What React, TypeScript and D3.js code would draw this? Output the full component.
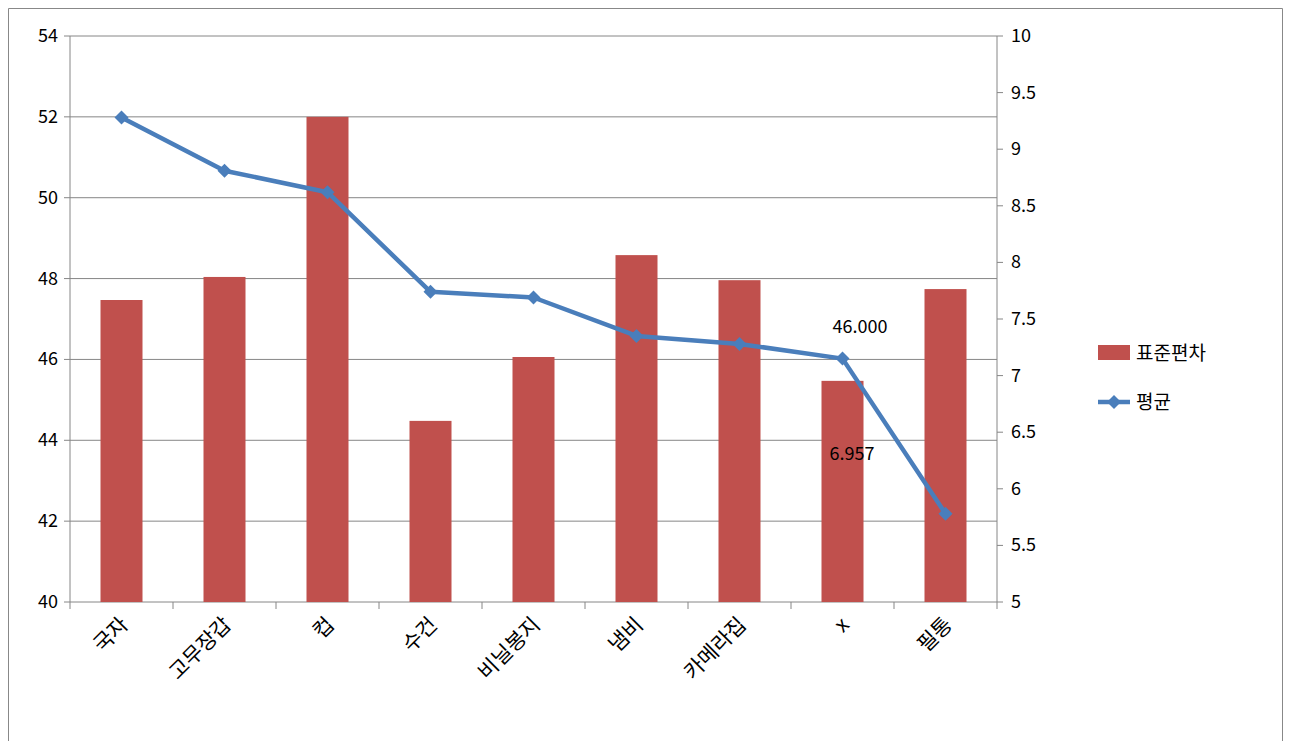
import * as d3 from "d3";

const categories = ["국자", "고무장갑", "컵", "수건", "비닐봉지", "냄비", "카메라집", "x", "필통"];
const stdDev = [47.47, 48.04, 52.0, 44.48, 46.06, 48.58, 47.96, 45.47, 47.74];
const mean = [9.28, 8.81, 8.62, 7.74, 7.69, 7.35, 7.28, 7.15, 5.78];
const leftTicks = [40, 42, 44, 46, 48, 50, 52, 54];
const rightTicks = [5, 5.5, 6, 6.5, 7, 7.5, 8, 8.5, 9, 9.5, 10];

export default function App() {
  const W = 1289, H = 741;
  const m = { left: 70, right: 997, top: 36, bottom: 602 };
  const x = d3.scaleBand<string>().domain(categories).range([m.left, m.right]);
  const yL = d3.scaleLinear().domain([40, 54]).range([m.bottom, m.top]);
  const yR = d3.scaleLinear().domain([5, 10]).range([m.bottom, m.top]);
  const cx = (c: string) => x(c)! + x.bandwidth() / 2;
  const line = d3.line<number>().x((_, i) => cx(categories[i])).y(d => yR(d));
  const font = "Malgun Gothic, 'Noto Sans CJK KR', sans-serif";
  const diamond = (px: number, py: number, s = 7) =>
    `M${px},${py - s}L${px + s},${py}L${px},${py + s}L${px - s},${py}Z`;
  return (
    <svg width={W} height={H} style={{ position: "absolute", left: 0, top: 0, fontFamily: font }}>
      <rect x={0} y={0} width={W} height={H} fill="#fff" />
      <path d={`M8.5,${H}V8.5H1282.5V${H}`} fill="none" stroke="#888" />
      {leftTicks.map(t => (
        <g key={t}>
          <line x1={m.left} x2={m.right} y1={yL(t)} y2={yL(t)} stroke="#868686" />
          <line x1={m.left - 6} x2={m.left} y1={yL(t)} y2={yL(t)} stroke="#868686" />
          <text x={m.left - 12} y={yL(t) + 6} textAnchor="end" fontSize={18}>{t}</text>
        </g>
      ))}
      {rightTicks.map(t => (
        <g key={t}>
          <line x1={m.right} x2={m.right + 6} y1={yR(t)} y2={yR(t)} stroke="#868686" />
          <text x={m.right + 14} y={yR(t) + 6} fontSize={18}>{t}</text>
        </g>
      ))}
      <line x1={m.left} x2={m.left} y1={m.top} y2={m.bottom} stroke="#868686" />
      <line x1={m.right} x2={m.right} y1={m.top} y2={m.bottom} stroke="#868686" />
      {categories.map((c, i) => (
        <line key={"t" + i} x1={x(c)} x2={x(c)} y1={m.bottom} y2={m.bottom + 7} stroke="#868686" />
      ))}
      <line x1={m.right} x2={m.right} y1={m.bottom} y2={m.bottom + 7} stroke="#868686" />
      {categories.map((c, i) => (
        <rect key={c} x={cx(c) - 21} width={42} y={yL(stdDev[i])} height={m.bottom - yL(stdDev[i])} fill="#c0504d" />
      ))}
      <path d={line(mean)!} fill="none" stroke="#4a7ebb" strokeWidth={4.5} strokeLinejoin="round" />
      {mean.map((v, i) => (
        <path key={i} d={diamond(cx(categories[i]), yR(v))} fill="#4a7ebb" />
      ))}
      <text x={860} y={333} textAnchor="middle" fontSize={18}>46.000</text>
      <text x={852} y={460} textAnchor="middle" fontSize={18}>6.957</text>
      {categories.map(c => (
        <text key={c} transform={`translate(${cx(c) + 8},${m.bottom + 24}) rotate(-45)`} textAnchor="end" fontSize={21}>{c}</text>
      ))}
      <rect x={1098} y={345} width={32} height={15} fill="#c0504d" />
      <text x={1136} y={360} fontSize={19}>표준편차</text>
      <line x1={1098} x2={1130} y1={402} y2={402} stroke="#4a7ebb" strokeWidth={4.5} />
      <path d={diamond(1114, 402)} fill="#4a7ebb" />
      <text x={1136} y={409} fontSize={19}>평균</text>
    </svg>
  );
}
